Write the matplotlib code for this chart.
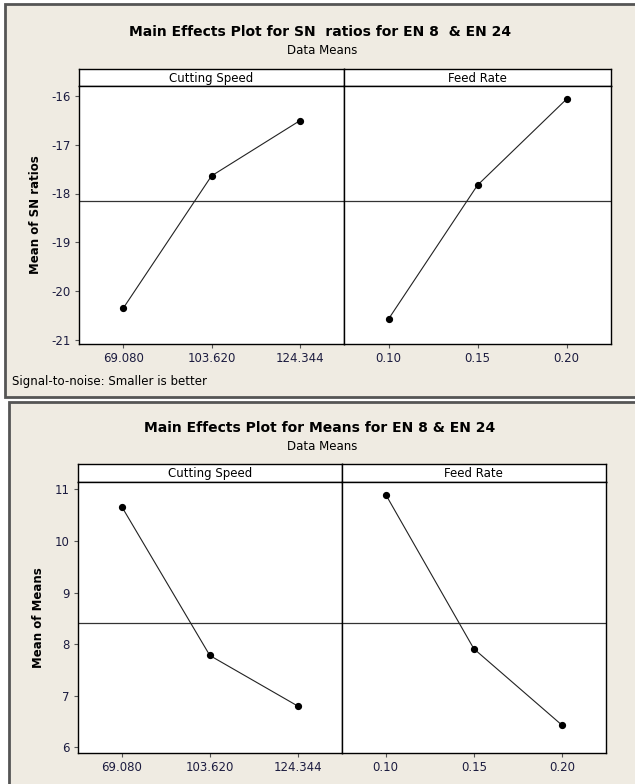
import matplotlib
matplotlib.use("Agg")
import matplotlib.pyplot as plt
from matplotlib.patches import Rectangle

# data
speed_levels = ["69.080", "103.620", "124.344"]
feed_levels = ["0.10", "0.15", "0.20"]

sn_speed = [-20.35, -17.64, -16.51]
sn_feed = [-20.57, -17.83, -16.07]

means_speed = [10.66, 7.78, 6.80]
means_feed = [10.90, 7.91, 6.43]

sn_yticks = [-21, -20, -19, -18, -17, -16]
means_yticks = [6, 7, 8, 9, 10, 11]

W, H = 635, 784
BG = "#efebe2"
EDGE = "#555555"
TXT = "#1c1c40"

plt.rcParams['font.family'] = ['DejaVu Sans']
plt.rcParams['axes.unicode_minus'] = False

fig = plt.figure(figsize=(W / 100, H / 100), dpi=100)
fig.patch.set_facecolor("white")


def rect(l, t, r, b):
    # pixel box -> figure fraction
    return [l / W, 1 - b / H, (r - l) / W, (b - t) / H]


def panel_bg(l, t, r, b):
    fig.patches.append(Rectangle((l / W, 1 - b / H), (r - l) / W, (b - t) / H,
                                 transform=fig.transFigure, facecolor=BG,
                                 edgecolor=EDGE, lw=2, zorder=-10))


def strip(l, t, r, b, label):
    s = fig.add_axes(rect(l, t, r, b))
    s.set_facecolor("white")
    s.set_xticks([])
    s.set_yticks([])
    for sp in s.spines.values():
        sp.set_linewidth(1)
        sp.set_color("black")
    s.text(0.5, 0.45, label, ha="center", va="center", fontsize=8.5,
           color="black", transform=s.transAxes)


def main_effects(l, mid, r, strip_top, top, bottom, ylim, yticks,
                 left_vals, right_vals, ylabel, title, title_y):
    fig.text(320 / W, 1 - title_y / H, title, ha="center", va="center",
             fontsize=10, fontweight="bold", color="black")
    fig.text(322 / W, 1 - (title_y + 18) / H, "Data Means", ha="center",
             va="center", fontsize=8.5, color="black")

    grand = (sum(left_vals) + sum(right_vals)) / 6.0
    axes = []
    for (x0, x1, vals, levels, name) in [(l, mid, left_vals, speed_levels, "Cutting Speed"),
                                           (mid, r, right_vals, feed_levels, "Feed Rate")]:
        strip(x0, strip_top, x1, top, name)
        ax = fig.add_axes(rect(x0, top, x1, bottom))
        ax.set_facecolor("white")
        ax.axhline(grand, color="#333333", lw=0.9, zorder=1)
        ax.plot([1, 2, 3], vals, color="#222222", lw=0.8, marker="o",
                markersize=4.2, markerfacecolor="black",
                markeredgecolor="black", zorder=3)
        ax.set_xlim(0.5, 3.5)
        ax.set_ylim(*ylim)
        ax.set_xticks([1, 2, 3])
        ax.set_xticklabels(levels)
        ax.set_yticks(yticks)
        ax.tick_params(direction="out", length=3, width=0.8, colors=EDGE,
                       labelcolor=TXT, labelsize=8.5, pad=3)
        for sp in ax.spines.values():
            sp.set_linewidth(1)
            sp.set_color("black")
        axes.append(ax)
    axes[1].tick_params(axis="y", left=False, labelleft=False)
    axes[0].set_ylabel(ylabel, fontsize=8.5, fontweight="bold", color="black",
                       labelpad=7)
    return axes


# top panel: SN ratios
panel_bg(4.7, 4.5, 645, 396.7)
main_effects(79, 344, 611, 69, 86, 344, (-21.08, -15.80), sn_yticks,
             sn_speed, sn_feed, "Mean of SN ratios",
             "Main Effects Plot for SN  ratios for EN 8  & EN 24", 32.5)
fig.text(12 / W, 1 - 382 / H, "Signal-to-noise: Smaller is better",
         ha="left", va="center", fontsize=8.5, color="black")

# bottom panel: means
panel_bg(9.3, 401.7, 645, 795)
main_effects(78, 341.7, 606, 464.3, 481.7, 752.7, (5.895, 11.15), means_yticks,
             means_speed, means_feed, "Mean of Means",
             "Main Effects Plot for Means for EN 8 & EN 24", 428)

fig.savefig("out.png", dpi=100, facecolor=fig.get_facecolor())
